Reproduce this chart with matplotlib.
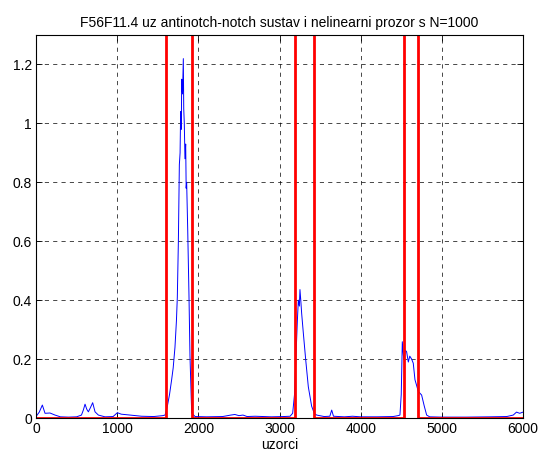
import numpy as np
import matplotlib.pyplot as plt

plt.rcParams['font.family'] = ['Liberation Sans', 'DejaVu Sans']

# signal (sample index, amplitude)
uzorci = [0, 40, 78, 111, 172, 234, 300, 400, 500, 560, 583, 604, 625, 645, 670, 698, 727, 768, 850,
          950, 1002, 1050, 1158, 1300, 1450, 1560, 1590, 1618, 1645, 1671, 1690, 1712, 1730, 1741,
          1754, 1766, 1775, 1782, 1790, 1795, 1805, 1815, 1820, 1827, 1835, 1844, 1850, 1856, 1869,
          1885, 1897, 1918, 1960, 2100, 2300, 2400, 2450, 2500, 2550, 2600, 2700, 2900, 3050, 3130,
          3162, 3185, 3203, 3220, 3232, 3245, 3252, 3262, 3273, 3293, 3322, 3355, 3396, 3430, 3458,
          3550, 3620, 3643, 3665, 3800, 3900, 4000, 4200, 4400, 4460, 4484, 4500, 4513, 4530, 4550,
          4566, 4587, 4605, 4628, 4648, 4669, 4690, 4710, 4751, 4784, 4813, 4850, 5000, 5300, 5600,
          5800, 5880, 5920, 5960, 6000]
amplituda = [0.005, 0.02, 0.044, 0.016, 0.017, 0.01, 0.004, 0.003, 0.004, 0.01, 0.027, 0.047, 0.03,
             0.021, 0.035, 0.052, 0.021, 0.01, 0.004, 0.005, 0.018, 0.013, 0.01, 0.006, 0.005,
             0.008, 0.01, 0.04, 0.08, 0.13, 0.17, 0.24, 0.33, 0.41, 0.60, 0.86, 0.90, 1.04, 0.98,
             1.15, 1.10, 1.22, 1.05, 1.0, 0.88, 0.93, 0.78, 0.80, 0.64, 0.41, 0.21, 0.017, 0.005,
             0.004, 0.005, 0.01, 0.012, 0.008, 0.01, 0.005, 0.006, 0.004, 0.005, 0.006, 0.016, 0.08,
             0.21, 0.33, 0.40, 0.38, 0.436, 0.40, 0.355, 0.29, 0.20, 0.106, 0.04, 0.015, 0.01,
             0.005, 0.006, 0.027, 0.006, 0.004, 0.006, 0.004, 0.004, 0.005, 0.008, 0.01, 0.08,
             0.259, 0.20, 0.23, 0.225, 0.19, 0.21, 0.20, 0.186, 0.13, 0.11, 0.09, 0.078, 0.04,
             0.01, 0.004, 0.003, 0.003, 0.004, 0.005, 0.01, 0.02, 0.016, 0.02]

# nonlinear window edges
prozor_poc = [1600, 3185, 4535]
prozor_kraj = [1925, 3430, 4705]
prozor_visina = 1.5

wx = [0]
wy = [0]
for a, b in zip(prozor_poc, prozor_kraj):
    wx += [a, a, b, b]
    wy += [0, prozor_visina, prozor_visina, 0]
wx.append(6000)
wy.append(0)

fig = plt.figure(figsize=(5.4, 4.55), dpi=100)
ax = fig.add_axes([0.0667, 0.0813, 0.9018, 0.8417])
ax.plot(uzorci, amplituda, color='blue', lw=0.7)
ax.plot(wx, wy, color='red', lw=2.0, solid_joinstyle='miter')
ax.set_xlim(0, 6000)
ax.set_ylim(0, 1.3)
ax.set_xticks(np.arange(0, 6001, 1000))
ax.set_yticks([0, 0.2, 0.4, 0.6, 0.8, 1, 1.2])
ax.set_yticklabels(['0', '0.2', '0.4', '0.6', '0.8', '1', '1.2'])
ax.grid(True, color='black', linestyle=(0, (6, 6)), lw=0.5)
ax.tick_params(direction='in', labelsize=10, length=4, width=0.6, pad=3)
ax.tick_params(top=True, right=True)
for s in ax.spines.values():
    s.set_linewidth(0.8)
ax.set_xlabel('uzorci', fontsize=10, labelpad=1)
ax.set_title('F56F11.4 uz antinotch-notch sustav i nelinearni prozor s N=1000', fontsize=10, pad=6)
fig.savefig('out.png', dpi=100)
